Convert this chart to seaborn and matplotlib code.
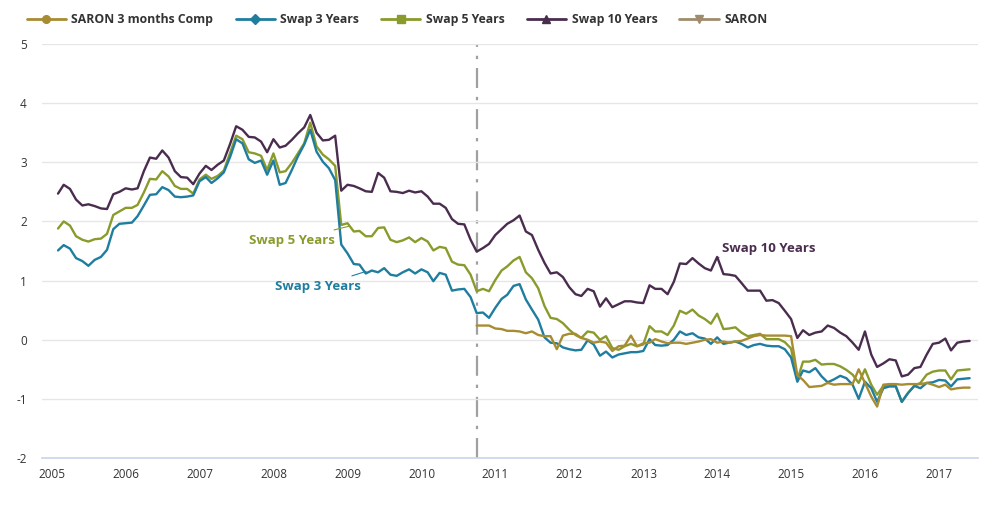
import pandas as pd
import seaborn as sns
import matplotlib.pyplot as plt
from matplotlib.lines import Line2D

# monthly values, month-end, Jan 2005 .. May 2017
swap10 = [2.47, 2.62, 2.55, 2.37, 2.27, 2.29, 2.26, 2.22, 2.21, 2.46, 2.50, 2.56, 2.54, 2.56, 2.85, 3.08,
          3.06, 3.20, 3.08, 2.85, 2.75, 2.74, 2.63, 2.81, 2.94, 2.87, 2.96, 3.03, 3.31, 3.61, 3.55, 3.43,
          3.42, 3.35, 3.17, 3.39, 3.25, 3.28, 3.38, 3.49, 3.59, 3.80, 3.50, 3.37, 3.38, 3.45, 2.52, 2.62,
          2.60, 2.56, 2.51, 2.50, 2.82, 2.74, 2.51, 2.50, 2.48, 2.52, 2.49, 2.51, 2.42, 2.30, 2.30, 2.23,
          2.04, 1.96, 1.95, 1.69, 1.49, 1.55, 1.62, 1.77, 1.87, 1.96, 2.02, 2.10, 1.83, 1.77, 1.52, 1.30,
          1.12, 1.14, 1.06, 0.89, 0.77, 0.74, 0.86, 0.82, 0.56, 0.70, 0.55, 0.60, 0.65, 0.65, 0.63, 0.62,
          0.92, 0.86, 0.86, 0.77, 0.98, 1.29, 1.28, 1.38, 1.29, 1.21, 1.17, 1.40, 1.11, 1.10, 1.08, 0.96,
          0.83, 0.83, 0.83, 0.66, 0.67, 0.62, 0.49, 0.35,
          0.03, 0.16, 0.08, 0.12, 0.14, 0.24, 0.20, 0.12, 0.06, -0.05, -0.17, 0.14, -0.25, -0.46, -0.40,
          -0.33, -0.35, -0.62, -0.59, -0.48, -0.46, -0.25, -0.07, -0.05, 0.02, -0.18, -0.05, -0.03, -0.02]

swap5 = [1.88, 2.00, 1.93, 1.75, 1.69, 1.66, 1.70, 1.71, 1.79, 2.11, 2.17, 2.23, 2.23, 2.28, 2.49, 2.72,
         2.71, 2.85, 2.76, 2.60, 2.55, 2.55, 2.47, 2.71, 2.79, 2.72, 2.77, 2.86, 3.16, 3.45, 3.39, 3.17,
         3.15, 3.11, 2.87, 3.15, 2.83, 2.85, 2.99, 3.15, 3.32, 3.67, 3.27, 3.13, 3.05, 2.94, 1.94, 1.97,
         1.83, 1.84, 1.75, 1.75, 1.89, 1.90, 1.69, 1.65, 1.68, 1.73, 1.65, 1.72, 1.66, 1.51, 1.57, 1.55,
         1.32, 1.27, 1.26, 1.10, 0.82, 0.86, 0.82, 1.01, 1.17, 1.24, 1.34, 1.40, 1.14, 1.04, 0.87, 0.57,
         0.37, 0.35, 0.28, 0.17, 0.08, 0.03, 0.14, 0.12, 0.00, 0.06, -0.14, -0.17, -0.11, -0.07, -0.11, -0.08,
         0.23, 0.14, 0.14, 0.08, 0.24, 0.49, 0.44, 0.51, 0.41, 0.35, 0.27, 0.44, 0.18, 0.19, 0.21, 0.12,
         0.06, 0.08, 0.10, 0.01, 0.01, 0.01, -0.04, -0.15,
         -0.68, -0.37, -0.37, -0.34, -0.42, -0.41, -0.41, -0.45, -0.51, -0.59, -0.73, -0.50, -0.76, -0.93,
         -0.78, -0.78, -0.78, -1.05, -0.90, -0.78, -0.73, -0.59, -0.54, -0.52, -0.52, -0.67, -0.52, -0.51, -0.50]

swap3 = [1.51, 1.60, 1.54, 1.38, 1.33, 1.25, 1.35, 1.40, 1.52, 1.87, 1.96, 1.97, 1.98, 2.09, 2.27, 2.45,
         2.46, 2.58, 2.53, 2.42, 2.41, 2.42, 2.44, 2.68, 2.75, 2.65, 2.73, 2.83, 3.09, 3.39, 3.32, 3.05,
         2.99, 3.03, 2.79, 3.03, 2.62, 2.65, 2.87, 3.10, 3.30, 3.55, 3.18, 3.01, 2.90, 2.70, 1.61, 1.46,
         1.28, 1.27, 1.12, 1.17, 1.14, 1.21, 1.10, 1.08, 1.14, 1.19, 1.12, 1.19, 1.14, 0.99, 1.13, 1.10,
         0.83, 0.85, 0.86, 0.72, 0.45, 0.46, 0.37, 0.54, 0.69, 0.76, 0.91, 0.94, 0.68, 0.51, 0.34, 0.04,
         -0.05, -0.06, -0.13, -0.16, -0.18, -0.17, -0.01, -0.08, -0.27, -0.20, -0.30, -0.25, -0.23, -0.21, -0.21, -0.19,
         0.01, -0.09, -0.10, -0.09, 0.00, 0.14, 0.08, 0.11, 0.04, 0.02, -0.07, 0.04, -0.07, -0.05, -0.03, -0.07,
         -0.13, -0.09, -0.07, -0.10, -0.11, -0.11, -0.16, -0.30,
         -0.71, -0.52, -0.55, -0.48, -0.62, -0.72, -0.67, -0.61, -0.65, -0.76, -1.00, -0.71, -0.82, -1.05,
         -0.82, -0.79, -0.79, -1.05, -0.90, -0.78, -0.82, -0.73, -0.72, -0.68, -0.69, -0.79, -0.67, -0.66, -0.65]

# SARON 3 months compounded, starts Sep 2010
saron3m = [0.24, 0.24, 0.24, 0.19, 0.18, 0.15, 0.15, 0.14, 0.11, 0.14, 0.08, 0.06, 0.06, -0.16, 0.07, 0.10,
           0.10, 0.03, 0.00, -0.05, -0.03, -0.05, -0.19, -0.11, -0.10, 0.07, -0.11, -0.06,
           -0.05, 0.01, -0.03, -0.06, -0.05, -0.05, -0.07, -0.05, -0.03, 0.00, 0.01, -0.05, -0.03, -0.05,
           -0.03, -0.02, 0.02, 0.06, 0.08, 0.07, 0.07, 0.07, 0.07, 0.06,
           -0.60, -0.68, -0.80, -0.79, -0.78, -0.73, -0.76, -0.75, -0.75, -0.75, -0.50, -0.73, -0.96, -1.13,
           -0.76, -0.75, -0.75, -0.76, -0.75, -0.75, -0.75, -0.73, -0.76, -0.80, -0.76, -0.84, -0.82, -0.81, -0.81]

dates = pd.date_range("2005-01-31", periods=len(swap10), freq="ME")
saron_dates = dates[len(dates) - len(saron3m):]

names = ["SARON 3 months Comp", "Swap 3 Years", "Swap 5 Years", "Swap 10 Years", "SARON"]
colors = ["#a88c32", "#1f7d9f", "#8a9b2c", "#4a2c4e", "#a08c6c"]
markers = ["o", "D", "s", "^", "v"]

df = pd.concat([
    pd.DataFrame({"date": dates, "value": swap10, "series": "Swap 10 Years"}),
    pd.DataFrame({"date": dates, "value": swap5, "series": "Swap 5 Years"}),
    pd.DataFrame({"date": dates, "value": swap3, "series": "Swap 3 Years"}),
    pd.DataFrame({"date": saron_dates, "value": saron3m, "series": "SARON 3 months Comp"}),
])

sns.set_theme(style="white")
plt.rcParams["font.family"] = ["Open Sans", "DejaVu Sans"]
plt.rcParams["axes.unicode_minus"] = False

fig = plt.figure(figsize=(9.89, 5.07), dpi=100)
ax = fig.add_axes([0.0425, 0.0966, 0.9465, 0.8166])

sns.lineplot(data=df, x="date", y="value", hue="series",
             hue_order=["Swap 10 Years", "Swap 5 Years", "Swap 3 Years", "SARON 3 months Comp"],
             palette=dict(zip(names, colors)), linewidth=1.7, legend=False, ax=ax)

ax.axvline(pd.Timestamp("2010-10-01"), color="#a0a0a0", lw=1.6, ls=(0, (9, 4, 1.5, 4)), zorder=0)

ax.set_ylim(-2, 5)
ax.set_yticks(range(-2, 6))
ax.set_xlim(pd.Timestamp("2004-11-13"), pd.Timestamp("2017-07-12"))
ax.set_xticks([pd.Timestamp(f"{y}-01-01") for y in range(2005, 2018)])
ax.set_xticklabels([str(y) for y in range(2005, 2018)])
ax.set_xlabel("")
ax.set_ylabel("")
ax.grid(axis="y", color="#e6e6e6", lw=1)
ax.grid(axis="x", visible=False)
for s in ["top", "right", "left"]:
    ax.spines[s].set_visible(False)
ax.spines["bottom"].set_color("#ccd6eb")
ax.tick_params(axis="x", colors="#ccd6eb", length=6, width=1, labelcolor="#333333", labelsize=8.5, pad=1)
ax.tick_params(axis="y", length=0, labelcolor="#333333", labelsize=8.5, pad=11)

# labels on the lines
ax.annotate("Swap 5 Years", xy=(pd.Timestamp("2009-01-20"), 1.93), xytext=(pd.Timestamp("2007-09-01"), 1.68),
            color="#8a9b2c", fontsize=9.5, fontweight="bold", va="center", ha="left",
            arrowprops=dict(arrowstyle="-", color="#8a9b2c", lw=0.8))
ax.annotate("Swap 3 Years", xy=(pd.Timestamp("2009-04-15"), 1.17), xytext=(pd.Timestamp("2008-01-10"), 0.9),
            color="#1f7d9f", fontsize=9.5, fontweight="bold", va="center", ha="left",
            arrowprops=dict(arrowstyle="-", color="#1f7d9f", lw=0.8))
ax.annotate("Swap 10 Years", xy=(pd.Timestamp("2013-12-31"), 1.38), xytext=(pd.Timestamp("2014-01-25"), 1.54),
            color="#4a2c4e", fontsize=9.5, fontweight="bold", va="center", ha="left",
            arrowprops=dict(arrowstyle="-", color="#4a2c4e", lw=0.8))

handles = [Line2D([], [], color=c, marker=m, markersize=5.5, lw=2) for c, m in zip(colors, markers)]
fig.legend(handles, names, loc="upper left", bbox_to_anchor=(0.016, 0.996), ncol=5, frameon=False,
           prop={"size": 8.8, "weight": "bold"}, labelcolor="#333333", handlelength=3.2,
           handletextpad=0.45, columnspacing=1.82)

fig.savefig("out.png", dpi=100)
